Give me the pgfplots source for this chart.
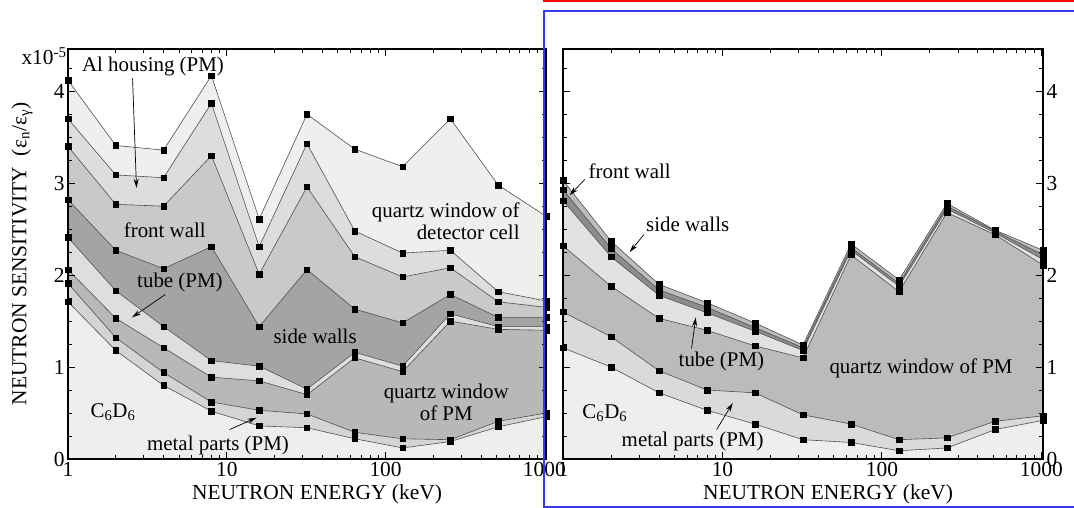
\documentclass[border=0pt]{standalone}
\usepackage{fontspec}
\setmainfont{Liberation Serif}
\usepackage{pgfplots}
\pgfplotsset{compat=1.18}
\usepackage{pgfplotstable}
\usetikzlibrary{arrows.meta}

\newcommand\fs{\fontsize{21.5}{25}\selectfont}
\newcommand\fa{\fontsize{21}{24}\selectfont}

\definecolor{LA}{HTML}{EEEEEE}
\definecolor{LB}{HTML}{D4D4D4}
\definecolor{LC}{HTML}{B8B8B8}
\definecolor{LD}{HTML}{DEDEDE}
\definecolor{LE}{HTML}{A4A4A4}
\definecolor{LF}{HTML}{C9C9C9}
\definecolor{LG}{HTML}{DDDDDD}
\definecolor{LH}{HTML}{EFEFEF}
\definecolor{RB}{HTML}{DADADA}
\definecolor{RC}{HTML}{BBBBBB}
\definecolor{RD}{HTML}{E2E2E2}
\definecolor{RE}{HTML}{8C8C8C}
\definecolor{RF}{HTML}{BDBDBD}
\definecolor{curvecol}{HTML}{505050}
\definecolor{annblue}{HTML}{3838F0}

\pgfplotstableread{
x    c1   c2   c3   c4   c5   c6   c7   c8
1    1.71 1.91 2.06 2.41 2.82 3.40 3.70 4.12
2    1.18 1.32 1.53 1.83 2.27 2.77 3.09 3.41
4    0.80 0.94 1.21 1.44 2.07 2.75 3.06 3.36
8    0.52 0.62 0.89 1.07 2.31 3.30 3.87 4.17
16   0.36 0.53 0.85 1.01 1.44 2.01 2.31 2.61
32   0.34 0.49 0.70 0.76 2.06 2.96 3.43 3.75
64   0.22 0.29 1.10 1.16 1.63 2.20 2.48 3.37
128  0.12 0.22 0.95 1.01 1.48 1.98 2.24 3.18
256  0.19 0.21 1.50 1.58 1.79 2.08 2.27 3.70
512  0.35 0.41 1.41 1.44 1.54 1.71 1.82 2.98
1024 0.46 0.50 1.40 1.44 1.54 1.65 1.72 2.64
}\datal

\pgfplotstableread{
x    c1   c2   c3   c4   c5   c6
1    1.21 1.60 2.32 2.81 2.93 3.03
2    1.00 1.33 1.88 2.20 2.29 2.37
4    0.72 0.96 1.53 1.78 1.84 1.90
8    0.53 0.75 1.40 1.59 1.65 1.70
16   0.38 0.72 1.23 1.39 1.43 1.48
32   0.21 0.48 1.10 1.18 1.21 1.24
64   0.18 0.38 2.22 2.27 2.30 2.34
128  0.09 0.21 1.82 1.88 1.91 1.95
256  0.12 0.23 2.68 2.72 2.75 2.78
512  0.32 0.41 2.44 2.46 2.48 2.49
1024 0.42 0.47 2.11 2.17 2.22 2.27
}\datar

\tikzset{myarr/.style={-{Stealth[length=9bp,width=5bp]}, line width=0.7bp, black}}

\begin{document}
\begin{tikzpicture}
\useasboundingbox (0,0) rectangle (1074bp,508bp);

% ---------------- left panel ----------------
\begin{axis}[at={(68bp,49bp)}, anchor=south west,
  scale only axis, width=478bp, height=410bp,
  xmode=log, xmin=1, xmax=1024, ymin=0, ymax=4.46,
  xtick={1,10,100,1000}, xticklabels={1,10,100,1000},
  minor xtick={2,3,4,5,6,7,8,9,20,30,40,50,60,70,80,90,200,300,400,500,600,700,800,900},
  ytick={0,1,2,3,4}, yticklabels={0,1,2,3,4},
  minor ytick={0.25,0.5,0.75,1.25,1.5,1.75,2.25,2.5,2.75,3.25,3.5,3.75,4.25},
  tick align=inside, xtick pos=both, ytick pos=both,
  xticklabel pos=lower, yticklabel pos=left,
  major tick length=7bp, minor tick length=4bp,
  tick style={black, line width=0.9bp},
  axis line style={line width=1.5bp},
  axis on top, clip=false,
  tick label style={font=\fs}]
 \addplot[fill=LH, draw=none] table[x=x, y=c8]{\datal} \closedcycle;
 \addplot[fill=LG, draw=none] table[x=x, y=c7]{\datal} \closedcycle;
 \addplot[fill=LF, draw=none] table[x=x, y=c6]{\datal} \closedcycle;
 \addplot[fill=LE, draw=none] table[x=x, y=c5]{\datal} \closedcycle;
 \addplot[fill=LD, draw=none] table[x=x, y=c4]{\datal} \closedcycle;
 \addplot[fill=LC, draw=none] table[x=x, y=c3]{\datal} \closedcycle;
 \addplot[fill=LB, draw=none] table[x=x, y=c2]{\datal} \closedcycle;
 \addplot[fill=LA, draw=none] table[x=x, y=c1]{\datal} \closedcycle;
 \addplot[draw=curvecol, line width=0.6bp, mark=square*, mark size=2.8bp, mark options={fill=black, draw=black}] table[x=x, y=c1]{\datal};
 \addplot[draw=curvecol, line width=0.6bp, mark=square*, mark size=2.8bp, mark options={fill=black, draw=black}] table[x=x, y=c2]{\datal};
 \addplot[draw=curvecol, line width=0.6bp, mark=square*, mark size=2.8bp, mark options={fill=black, draw=black}] table[x=x, y=c3]{\datal};
 \addplot[draw=curvecol, line width=0.6bp, mark=square*, mark size=2.8bp, mark options={fill=black, draw=black}] table[x=x, y=c4]{\datal};
 \addplot[draw=curvecol, line width=0.6bp, mark=square*, mark size=2.8bp, mark options={fill=black, draw=black}] table[x=x, y=c5]{\datal};
 \addplot[draw=curvecol, line width=0.6bp, mark=square*, mark size=2.8bp, mark options={fill=black, draw=black}] table[x=x, y=c6]{\datal};
 \addplot[draw=curvecol, line width=0.6bp, mark=square*, mark size=2.8bp, mark options={fill=black, draw=black}] table[x=x, y=c7]{\datal};
 \addplot[draw=curvecol, line width=0.6bp, mark=square*, mark size=2.8bp, mark options={fill=black, draw=black}] table[x=x, y=c8]{\datal};

 \node[font=\fa] at (axis cs:3.43,4.27) {Al housing (PM)};
 \draw[myarr] (axis cs:2.55,4.14) -- (axis cs:2.7,2.95);
 \node[font=\fa] at (axis cs:4.07,2.49) {front wall};
 \node[font=\fa] at (axis cs:5.07,1.92) {tube (PM)};
 \draw[myarr] (axis cs:4.1,1.79) -- (axis cs:2.53,1.54);
 \node[font=\fa] at (axis cs:36,1.33) {side walls};
 \node[font=\fa, align=center, inner sep=0pt] at (axis cs:241,0.62) {quartz window\\[-2bp]of PM};
 \node[font=\fa, align=right, anchor=east, inner sep=0pt] at (axis cs:700,2.59) {quartz window of\\[-2bp]detector cell};
 \node[font=\fa] at (axis cs:1.92,0.51) {C\textsubscript{6}D\textsubscript{6}};
 \node[font=\fa] at (axis cs:8.8,0.15) {metal parts (PM)};
 \draw[myarr] (axis cs:10.4,0.32) -- (axis cs:15.4,0.45);
\end{axis}

% ---------------- right panel ----------------
\begin{axis}[at={(563bp,49bp)}, anchor=south west,
  scale only axis, width=480bp, height=410bp,
  xmode=log, xmin=1, xmax=1024, ymin=0, ymax=4.46,
  xtick={1,10,100,1000}, xticklabels={1,10,100,1000},
  minor xtick={2,3,4,5,6,7,8,9,20,30,40,50,60,70,80,90,200,300,400,500,600,700,800,900},
  ytick={0,1,2,3,4}, yticklabels={0,1,2,3,4},
  minor ytick={0.25,0.5,0.75,1.25,1.5,1.75,2.25,2.5,2.75,3.25,3.5,3.75,4.25},
  tick align=inside, xtick pos=both, ytick pos=both,
  xticklabel pos=lower, yticklabel pos=right,
  major tick length=7bp, minor tick length=4bp,
  tick style={black, line width=0.9bp},
  axis line style={line width=1.5bp},
  axis on top, clip=false,
  tick label style={font=\fs}]
 \addplot[fill=RF, draw=none] table[x=x, y=c6]{\datar} \closedcycle;
 \addplot[fill=RE, draw=none] table[x=x, y=c5]{\datar} \closedcycle;
 \addplot[fill=RD, draw=none] table[x=x, y=c4]{\datar} \closedcycle;
 \addplot[fill=RC, draw=none] table[x=x, y=c3]{\datar} \closedcycle;
 \addplot[fill=RB, draw=none] table[x=x, y=c2]{\datar} \closedcycle;
 \addplot[fill=LA, draw=none] table[x=x, y=c1]{\datar} \closedcycle;
 \addplot[draw=curvecol, line width=0.6bp, mark=square*, mark size=2.8bp, mark options={fill=black, draw=black}] table[x=x, y=c1]{\datar};
 \addplot[draw=curvecol, line width=0.6bp, mark=square*, mark size=2.8bp, mark options={fill=black, draw=black}] table[x=x, y=c2]{\datar};
 \addplot[draw=curvecol, line width=0.6bp, mark=square*, mark size=2.8bp, mark options={fill=black, draw=black}] table[x=x, y=c3]{\datar};
 \addplot[draw=curvecol, line width=0.6bp, mark=square*, mark size=2.8bp, mark options={fill=black, draw=black}] table[x=x, y=c4]{\datar};
 \addplot[draw=curvecol, line width=0.6bp, mark=square*, mark size=2.8bp, mark options={fill=black, draw=black}] table[x=x, y=c5]{\datar};
 \addplot[draw=curvecol, line width=0.6bp, mark=square*, mark size=2.8bp, mark options={fill=black, draw=black}] table[x=x, y=c6]{\datar};

 \node[font=\fa] at (axis cs:2.62,3.13) {front wall};
 \draw[myarr] (axis cs:1.37,3.04) -- (axis cs:1.1,2.87);
 \node[font=\fa] at (axis cs:6.05,2.55) {side walls};
 \draw[myarr] (axis cs:3.21,2.44) -- (axis cs:2.62,2.25);
 \node[font=\fa] at (axis cs:9.85,1.06) {tube (PM)};
 \draw[myarr] (axis cs:6.4,1.20) -- (axis cs:6.8,1.54);
 \node[font=\fa] at (axis cs:176,0.99) {quartz window of PM};
 \node[font=\fa] at (axis cs:1.83,0.50) {C\textsubscript{6}D\textsubscript{6}};
 \node[font=\fa] at (axis cs:6.5,0.19) {metal parts (PM)};
 \draw[myarr] (axis cs:9.2,0.32) -- (axis cs:11.6,0.61);
\end{axis}

% ---------------- labels ----------------
\node[font=\fs, rotate=90] at (22bp,254bp) {NEUTRON SENSITIVITY\ \ (ε\textsubscript{n}/ε\textsubscript{γ})};
\node[font=\fs, anchor=base west] at (18bp,443bp) {x10\textsuperscript{-5}};
\node[font=\fs, anchor=base] at (317bp,9bp) {NEUTRON ENERGY (keV)};
\node[font=\fs, anchor=base] at (828bp,9bp) {NEUTRON ENERGY (keV)};

% ---------------- annotation frame ----------------
\draw[annblue, line width=2bp] (1076bp,497bp) -- (544bp,497bp) -- (544bp,1bp) -- (1076bp,1bp);
\draw[red, line width=2bp] (543bp,507bp) -- (1076bp,507bp);
\end{tikzpicture}
\end{document}
